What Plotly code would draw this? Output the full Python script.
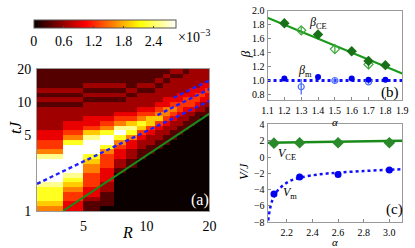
import numpy as np
import plotly.graph_objects as go

W, H = 415, 248
def px(x): return x / W
def py(y): return 1 - y / H

FONT = "Liberation Serif"

# ---------------- panel (a): heat map (levels 0..9, top row first)
R_EDGES = list(range(3, 21))
T_MIN, T_MAX, N_ROWS = 1.0, 20.0, 30
HEAT_ROWS = [
    "11111111112212222",
    "11111111121122222",
    "11111111212222222",
    "11222122122222233",
    "22111211222223334",
    "11222122222333443",
    "22111222233344433",
    "11222222334444322",
    "22222233455433221",
    "22223344554322111",
    "22334456643221100",
    "23345676432211000",
    "23458864322110000",
    "34679743221100000",
    "35897532211000000",
    "47995322110000000",
    "49974321100000000",
    "59953211000000000",
    "89743210000000000",
    "99642100000000000",
    "99542100000000000",
    "99531000000000000",
    "98430000000000000",
    "97430000000000000",
    "86420000000000000",
    "75320000000000000",
    "74310000000000000",
    "74210000000000000",
    "63110000000000000",
    "53100000000000000",
]
Z_MAX = 2.85e-3
CB_TICKS = [0, 0.6, 1.2, 1.8, 2.4]
CB_LABELS = ["0", "0.6", "1.2", "1.8", "2.4"]
A_XTICKS = [5, 10, 20]
A_YTICKS = [1, 5, 10, 20]

GREEN_R = [4, 20]
GREEN_T = [1.0, 7.8]
BLUE1_R = [3, 20]
BLUE1_T = [1.77, 10.2]
BLUE2_R = [11.3, 20]
BLUE2_T = [7.56, 13.1]
BLUE3_R = [13.5, 20]
BLUE3_T = [10.9, 15.7]

# ---------------- panel (b)
ALPHA_CE_FILLED = [1.2, 1.4, 1.6, 1.7, 1.8]
BETA_CE_FILLED = [1.82, 1.66, 1.42, 1.28, 1.22]
BETA_CE_FILLED_ERR = [0.06, 0.02, 0.04, 0.05, 0.04]
ALPHA_CE_OPEN = [1.3, 1.5, 1.7]
BETA_CE_OPEN = [1.72, 1.45, 1.23]
BETA_CE_OPEN_ERR = [0.05, 0.06, 0.07]
CE_FIT_ALPHA = [1.1, 1.9]
CE_FIT_BETA = [1.9, 1.1]

ALPHA_M_FILLED = [1.2, 1.4, 1.6, 1.7, 1.8]
BETA_M_FILLED = [1.03, 1.05, 1.03, 1.01, 1.01]
ALPHA_M_OPEN = [1.3, 1.5, 1.7]
BETA_M_OPEN = [0.91, 1.0, 0.98]
BETA_M_OPEN_ERR = [0.11, 0.04, 0.03]
M_FIT_ALPHA = [1.1, 1.9]
M_FIT_BETA = [1.0, 1.0]
B_XTICKS = [1.1, 1.2, 1.3, 1.4, 1.5, 1.6, 1.7, 1.8, 1.9]
B_YTICKS = [0.8, 1.0, 1.2, 1.4, 1.6, 1.8, 2.0]

# ---------------- panel (c)
ALPHA_V = [2.1, 2.3, 2.6, 3.0]
V_CE = [1.7, 1.75, 1.75, 1.75]
V_M = [-4.55, -2.45, -2.15, -1.6]
VCE_FIT_ALPHA = [2.05, 3.1]
VCE_FIT = [1.75, 2.0]
VM_CURVE_ALPHA = [2.055, 2.07, 2.09, 2.12, 2.17, 2.23, 2.3, 2.4, 2.5, 2.6, 2.8, 3.0, 3.1]
VM_CURVE = [-7.8, -6.3, -5.2, -4.3, -3.5, -2.9, -2.55, -2.25, -2.05, -1.92, -1.72, -1.57, -1.5]
C_XTICKS = [2.2, 2.4, 2.6, 2.8, 3.0]
C_YTICKS = [-8, -6, -4, -2, 0, 2, 4]

# ---------------------------------------------------------------
t_edges = np.geomspace(T_MIN, T_MAX, N_ROWS + 1)
z = [[int(c) / 9 * Z_MAX for c in row] for row in reversed(HEAT_ROWS)]

hot = [[0, "rgb(11,0,0)"], [0.365, "rgb(255,0,0)"], [0.746, "rgb(255,255,0)"], [1, "rgb(255,255,255)"]]

fig = go.Figure()
fig.add_trace(go.Heatmap(
    x=R_EDGES, y=t_edges, z=z, zmin=0, zmax=Z_MAX, colorscale=hot, zsmooth=False,
    xaxis="x", yaxis="y", hoverinfo="skip",
    colorbar=dict(orientation="h", x=px(102), xanchor="center", y=py(14), yanchor="top",
                  len=142, lenmode="pixels", thickness=8, xpad=0, ypad=0,
                  tickvals=[v * 1e-3 for v in CB_TICKS], ticktext=CB_LABELS,
                  ticks="inside", ticklen=2, tickcolor="#444",
                  tickfont=dict(family=FONT, size=14, color="black"),
                  outlinewidth=1, outlinecolor="#555"),
))
fig.add_trace(go.Scatter(x=GREEN_R, y=GREEN_T, mode="lines", line=dict(color="#1a8a1a", width=2),
                         xaxis="x", yaxis="y", showlegend=False))
for rr, tt in [(BLUE1_R, BLUE1_T), (BLUE2_R, BLUE2_T), (BLUE3_R, BLUE3_T)]:
    fig.add_trace(go.Scatter(x=rr, y=tt, mode="lines", line=dict(color="#2020ff", width=2.4, dash="4px,3px"),
                             xaxis="x", yaxis="y", showlegend=False))

# panel (b)
G_DARK = "#187018"
G_LIGHT = "#3caa3c"
B_DARK = "#0000ee"
B_LIGHT = "#4a6cff"
fig.add_trace(go.Scatter(x=CE_FIT_ALPHA, y=CE_FIT_BETA, mode="lines", line=dict(color="#1a9a1a", width=2),
                         xaxis="x2", yaxis="y2", showlegend=False))
fig.add_trace(go.Scatter(x=M_FIT_ALPHA, y=M_FIT_BETA, mode="lines", line=dict(color="#1010ff", width=3, dash="dot"),
                         xaxis="x2", yaxis="y2", showlegend=False))
fig.add_trace(go.Scatter(x=ALPHA_CE_OPEN, y=BETA_CE_OPEN, mode="markers",
                         marker=dict(symbol="diamond-open", size=7, color=G_LIGHT, line=dict(width=1.2)),
                         error_y=dict(type="data", array=BETA_CE_OPEN_ERR, color=G_LIGHT, thickness=1.3, width=0),
                         xaxis="x2", yaxis="y2", showlegend=False))
fig.add_trace(go.Scatter(x=ALPHA_CE_FILLED, y=BETA_CE_FILLED, mode="markers",
                         marker=dict(symbol="diamond", size=8, color=G_DARK),
                         error_y=dict(type="data", array=BETA_CE_FILLED_ERR, color=G_DARK, thickness=1.3, width=0),
                         xaxis="x2", yaxis="y2", showlegend=False))
fig.add_trace(go.Scatter(x=ALPHA_M_OPEN, y=BETA_M_OPEN, mode="markers",
                         marker=dict(symbol="circle-open", size=6, color=B_LIGHT, line=dict(width=1.2)),
                         error_y=dict(type="data", array=BETA_M_OPEN_ERR, color=B_LIGHT, thickness=1.3, width=0),
                         xaxis="x2", yaxis="y2", showlegend=False))
fig.add_trace(go.Scatter(x=ALPHA_M_FILLED, y=BETA_M_FILLED, mode="markers",
                         marker=dict(symbol="circle", size=6, color=B_DARK),
                         xaxis="x2", yaxis="y2", showlegend=False))

# panel (c)
fig.add_trace(go.Scatter(x=VCE_FIT_ALPHA, y=VCE_FIT, mode="lines", line=dict(color="#1a8a1a", width=2.5),
                         xaxis="x3", yaxis="y3", showlegend=False))
fig.add_trace(go.Scatter(x=ALPHA_V, y=V_CE, mode="markers", marker=dict(symbol="diamond", size=9, color="#2a8a2a"),
                         xaxis="x3", yaxis="y3", showlegend=False))
fig.add_trace(go.Scatter(x=VM_CURVE_ALPHA, y=VM_CURVE, mode="lines", line=dict(color="#1010ff", width=2.5, dash="dot", shape="spline"),
                         xaxis="x3", yaxis="y3", showlegend=False))
fig.add_trace(go.Scatter(x=ALPHA_V, y=V_M, mode="markers", marker=dict(symbol="circle", size=7, color=B_DARK),
                         xaxis="x3", yaxis="y3", showlegend=False))

frame = dict(showline=True, linecolor="#9a9a9a", linewidth=1, mirror=True, showgrid=False, zeroline=False)
small = dict(family=FONT, size=10, color="black")
alpha_title = dict(text="<i>\u03b1</i>", font=dict(family=FONT, size=11, color="black"), standoff=0)

def fmt(v):
    s = f"{v:g}"
    return s.replace("-", "\u2212")

fig.update_layout(
    width=W, height=H, margin=dict(l=0, r=0, t=0, b=0),
    paper_bgcolor="white", plot_bgcolor="white",
    font=dict(family=FONT, color="black"),
    xaxis=dict(type="log", range=[np.log10(3), np.log10(20)], domain=[px(32), px(210)], anchor="y",
               tickvals=A_XTICKS, ticktext=[str(v) for v in A_XTICKS], ticks="", ticklabelstandoff=2,
               tickfont=dict(family=FONT, size=14), **frame),
    yaxis=dict(type="log", range=[0, np.log10(20)], domain=[py(217), py(66)], anchor="x",
               tickvals=A_YTICKS, ticktext=[str(v) for v in A_YTICKS], ticks="", ticklabelstandoff=2,
               tickfont=dict(family=FONT, size=14), **frame),
    xaxis2=dict(range=[1.1, 1.9], domain=[px(270), px(409)], anchor="y2",
                tickvals=B_XTICKS, ticktext=[f"{v:.1f}" for v in B_XTICKS], ticks="inside", ticklen=3,
                tickcolor="#888", tickfont=small, ticklabelstandoff=1, title=alpha_title, **frame),
    yaxis2=dict(range=[0.72, 2.0], domain=[py(99), py(4)], anchor="x2",
                tickvals=B_YTICKS, ticktext=[f"{v:.1f}" for v in B_YTICKS], ticks="inside", ticklen=3,
                tickcolor="#888", tickfont=small, **frame),
    xaxis3=dict(range=[2.05, 3.1], domain=[px(270), px(409)], anchor="y3",
                tickvals=C_XTICKS, ticktext=[f"{v:.1f}" for v in C_XTICKS], ticks="inside", ticklen=3,
                tickcolor="#888", tickfont=small, ticklabelstandoff=1, title=alpha_title, **frame),
    yaxis3=dict(range=[-8, 4], domain=[py(229), py(125)], anchor="x3",
                tickvals=C_YTICKS, ticktext=[fmt(v) for v in C_YTICKS], ticks="inside", ticklen=3,
                tickcolor="#888", tickfont=small, **frame),
)

def ann(text, x, y, size, angle=0, color="black", xanchor="center"):
    fig.add_annotation(text=text, x=px(x), y=py(y), xref="paper", yref="paper", showarrow=False,
                       xanchor=xanchor, yanchor="middle", textangle=angle,
                       font=dict(family=FONT, size=size, color=color))

ann("\u00d710<sup>\u22123</sup>", 176, 31, 14, xanchor="left")
ann("<i>tJ</i>", 10, 128, 17, angle=-90)
ann("<i>R</i>", 125, 240, 16)
ann("(a)", 200, 205, 16, color="white")

ann("<i>\u03b2</i><sub>CE</sub>", 322, 17, 12)
ann("<i>\u03b2</i><sub>m</sub>", 309, 68, 12)
ann("(b)", 396, 91, 15)
ann("<i>\u03b2</i>", 248, 50, 13, angle=-90)

ann("<i>V</i><sub>CE</sub>", 290, 156, 12)
ann("<i>V</i><sub>m</sub>", 293, 198, 12)
ann("(c)", 401, 216, 15)
ann("<i>V/J</i>", 246, 175, 12, angle=-90)

fig.write_html("out.html", config={"displayModeBar": False},
               post_script="document.body.style.margin='0';document.body.style.overflow='hidden';")
